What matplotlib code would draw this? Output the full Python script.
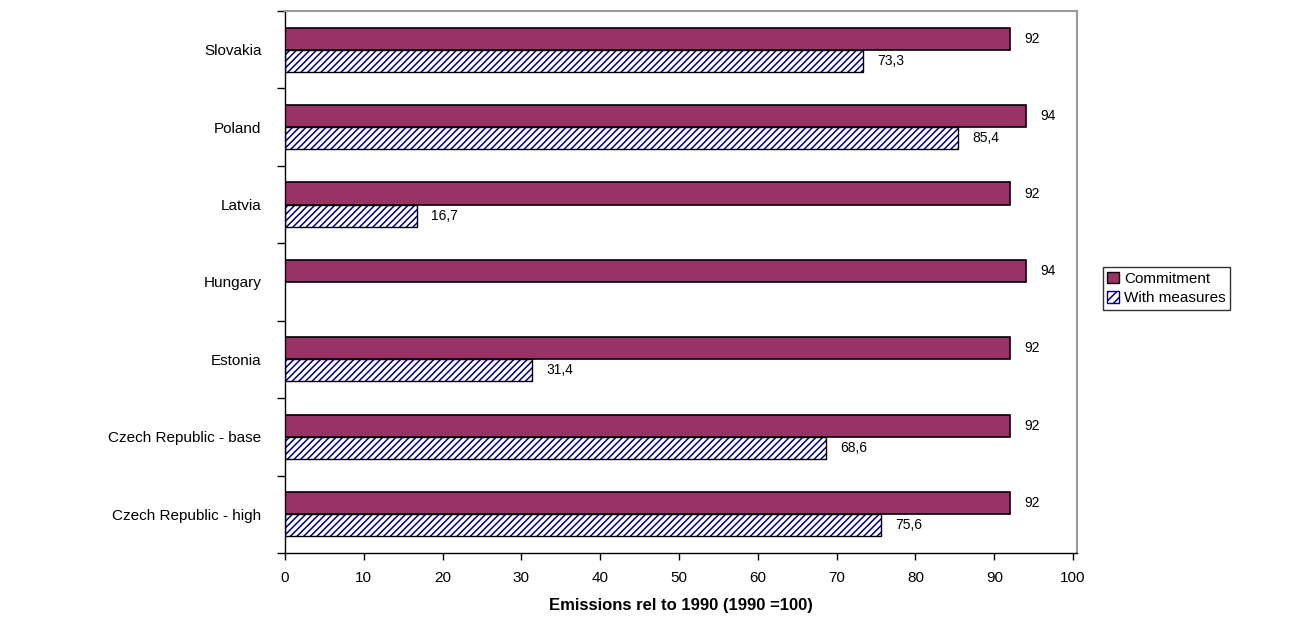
import numpy as np
import matplotlib.pyplot as plt
from matplotlib.patches import Rectangle

countries = ['Slovakia', 'Poland', 'Latvia', 'Hungary', 'Estonia',
             'Czech Republic - base', 'Czech Republic - high']
commitment = [92, 94, 92, 94, 92, 92, 92]
with_measures = [73.3, 85.4, 16.7, None, 31.4, 68.6, 75.6]
xticks = [0, 10, 20, 30, 40, 50, 60, 70, 80, 90, 100]

plt.rcParams['font.family'] = ['Liberation Sans', 'DejaVu Sans']
plt.rcParams['hatch.linewidth'] = 1.1

fig = plt.figure(figsize=(13.08, 6.27), dpi=100)
ax = fig.add_axes([0.2179, 0.118, 0.6055, 0.8645])

plum = '#993366'
navy = '#000080'
hatch = '/////'
h = 0.285
y = np.arange(len(countries))

ax.barh(y - h / 2, commitment, height=h, color=plum, edgecolor='black',
        linewidth=1.2, label='Commitment')
for yi, v in zip(y, commitment):
    ax.text(v + 1.8, yi - h / 2, f'{v}', va='center', ha='left', fontsize=10)

mask = [v is not None for v in with_measures]
wy = y[mask]
wv = [v for v in with_measures if v is not None]
ax.barh(wy + h / 2, wv, height=h, color='white', edgecolor=navy,
        linewidth=0, hatch=hatch)
ax.barh(wy + h / 2, wv, height=h, fill=False, edgecolor='black', linewidth=1.0)
for yi, v in zip(wy, wv):
    ax.text(v + 1.8, yi + h / 2, f'{v:.1f}'.replace('.', ','), va='center',
            ha='left', fontsize=10)

ax.set_ylim(len(countries) - 0.5, -0.5)
ax.set_xlim(0, 100.5)
ax.set_yticks(y)
ax.set_yticklabels(countries, fontsize=11)
ax.set_yticks(np.arange(-0.5, len(countries), 1), minor=True)
ax.tick_params(axis='y', which='major', length=0, pad=17)
ax.tick_params(axis='y', which='minor', length=6, direction='out', width=1)
ax.set_xticks(xticks)
ax.set_xticklabels([str(t) for t in xticks], fontsize=11)
ax.tick_params(axis='x', length=5, direction='out', width=1, pad=8)

ax.set_xlabel('Emissions rel to 1990 (1990 =100)', fontsize=12,
              fontweight='bold', labelpad=9)

for s in ['top', 'right']:
    ax.spines[s].set_color('#999999')
    ax.spines[s].set_linewidth(1.5)
for s in ['left', 'bottom']:
    ax.spines[s].set_color('black')
    ax.spines[s].set_linewidth(1.0)

legend_handles = [Rectangle((0, 0), 1, 1, facecolor=plum, edgecolor='black'),
                  Rectangle((0, 0), 1, 1, facecolor='white', edgecolor=navy,
                            hatch='////')]
leg = fig.legend(legend_handles, ['Commitment', 'With measures'],
                 loc='center left', bbox_to_anchor=(0.843, 0.54),
                 fontsize=11, frameon=True, fancybox=False,
                 handlelength=0.8, handleheight=0.8, handletextpad=0.3,
                 borderpad=0.3, labelspacing=0.35, borderaxespad=0)
leg.get_frame().set_edgecolor('black')
leg.get_frame().set_linewidth(1.0)

fig.savefig('out.png', dpi=100)
